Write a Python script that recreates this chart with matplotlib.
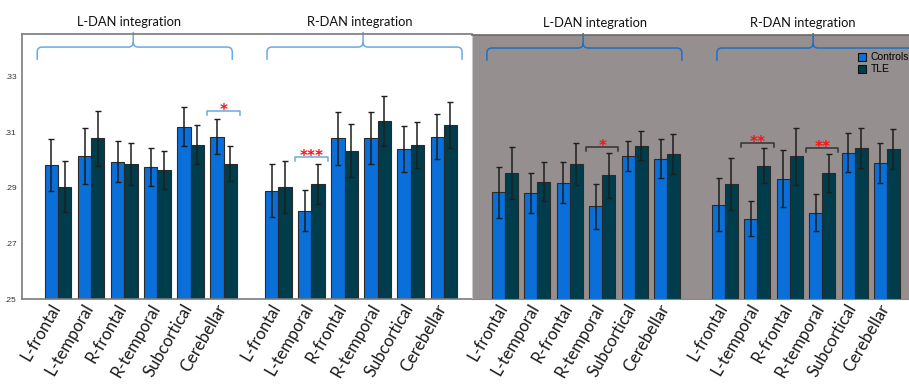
import matplotlib
matplotlib.use("Agg")
import matplotlib.pyplot as plt
from matplotlib.path import Path
from matplotlib.patches import PathPatch, Patch

regions = ["L-frontal", "L-temporal", "R-frontal", "R-temporal", "Subcortical", "Cerebellar"]
networks = ["L-DAN integration", "R-DAN integration"]
groups = ["Controls", "TLE"]
y_ticks = [0.25, 0.27, 0.29, 0.31, 0.33]
y_tick_labels = [".25", ".27", ".29", ".31", ".33"]

# left panel (white)
ldan_ctrl_a = [0.2982, 0.3014, 0.2994, 0.2975, 0.3120, 0.3084]
ldan_ctrl_a_err = [0.0093, 0.0100, 0.0075, 0.0067, 0.0071, 0.0064]
ldan_tle_a = [0.2904, 0.3078, 0.2985, 0.2964, 0.3054, 0.2986]
ldan_tle_a_err = [0.0092, 0.0098, 0.0076, 0.0067, 0.0070, 0.0063]
rdan_ctrl_a = [0.2890, 0.2817, 0.3078, 0.3078, 0.3040, 0.3084]
rdan_ctrl_a_err = [0.0095, 0.0074, 0.0095, 0.0094, 0.0083, 0.0081]
rdan_tle_a = [0.2904, 0.2914, 0.3033, 0.3140, 0.3054, 0.3126]
rdan_tle_a_err = [0.0094, 0.0073, 0.0096, 0.0090, 0.0082, 0.0083]

# right panel (grey)
ldan_ctrl_b = [0.2886, 0.2884, 0.2920, 0.2835, 0.3017, 0.3006]
ldan_ctrl_b_err = [0.0092, 0.0072, 0.0075, 0.0081, 0.0054, 0.0070]
ldan_tle_b = [0.2955, 0.2924, 0.2988, 0.2947, 0.3054, 0.3024]
ldan_tle_b_err = [0.0094, 0.0070, 0.0076, 0.0081, 0.0054, 0.0071]
rdan_ctrl_b = [0.2841, 0.2790, 0.2934, 0.2812, 0.3028, 0.2990]
rdan_ctrl_b_err = [0.0094, 0.0063, 0.0103, 0.0067, 0.0070, 0.0072]
rdan_tle_b = [0.2914, 0.2981, 0.3015, 0.2956, 0.3046, 0.3042]
rdan_tle_b_err = [0.0094, 0.0064, 0.0103, 0.0068, 0.0072, 0.0072]

# (network index, region index, bracket height, stars)
sig_a = [(0, 5, 0.3176, "*"), (1, 1, 0.3012, "***")]
sig_b = [(0, 3, 0.3048, "*"), (1, 1, 0.3062, "**"), (1, 3, 0.3044, "**")]

C_CTRL = "#0a6fd8"
C_TLE = "#003d4c"
YMIN, YMAX = 0.25, 0.3453
W = 0.4
PX_Y = 0.01 / 27.8   # data units per pixel (vertical)

fig = plt.figure(figsize=(9.09, 3.84), dpi=100)


def add_ax(x0, x1, y_top=34, y_bot=299):
    return fig.add_axes([x0 / 909, (384 - y_bot) / 384, (x1 - x0) / 909, (y_bot - y_top) / 384])


def brace(ax, x0, x1, xt, color, px_x):
    ym, ye, yt = 0.3406, 0.3360, 0.3460
    rx, ry = 5 * px_x, 5 * PX_Y
    verts = [(x0, ye), (x0, ym - ry), (x0, ym), (x0 + rx, ym), (xt - rx, ym),
             (xt, ym), (xt, ym + ry), (xt, yt),
             (xt, ym + ry), (xt, ym), (xt + rx, ym), (x1 - rx, ym),
             (x1, ym), (x1, ym - ry), (x1, ye)]
    codes = [Path.MOVETO, Path.LINETO, Path.CURVE3, Path.CURVE3, Path.LINETO,
             Path.CURVE3, Path.CURVE3, Path.LINETO,
             Path.MOVETO, Path.CURVE3, Path.CURVE3, Path.LINETO,
             Path.CURVE3, Path.CURVE3, Path.LINETO]
    ax.add_patch(PathPatch(Path(verts, codes), fill=False, edgecolor=color,
                           lw=1.1, clip_on=False))


def draw_panel(ax, data, offset2, braces, brace_color, bracket_color, sigs, px_x):
    for n, (ctrl, ctrl_e, tle, tle_e) in enumerate(data):
        centers = [i + n * offset2 for i in range(len(regions))]
        ax.bar([c - W / 2 for c in centers], ctrl, W, bottom=0, color=C_CTRL,
               edgecolor="#2a2a2a", lw=0.8, yerr=ctrl_e, capsize=2,
               error_kw=dict(ecolor="#1e1e1e", elinewidth=1.1, capthick=1))
        ax.bar([c + W / 2 for c in centers], tle, W, bottom=0, color=C_TLE,
               edgecolor="#2a2a2a", lw=0.8, yerr=tle_e, capsize=2,
               error_kw=dict(ecolor="#1e1e1e", elinewidth=1.1, capthick=1))
        for c, lab in zip(centers, regions):
            ax.annotate(lab, (c, 0), xycoords=("data", "axes fraction"),
                        xytext=(-6, -1.5), textcoords="offset points",
                        rotation=60, ha="right", va="top", rotation_mode="anchor",
                        fontsize=12, family="Lato", color="#1a1a1a",
                        annotation_clip=False)
        b0, b1, bt, tx = braces[n]
        g0 = n * offset2
        brace(ax, g0 + b0, g0 + b1, g0 + bt, brace_color, px_x)
        ax.text(g0 + tx, 0.3497, networks[n], ha="center", va="center",
                fontsize=9.3, family="Lato", color="#111111", clip_on=False)
    for n, r, y, stars in sigs:
        c = r + n * offset2
        x0, x1 = c - 0.5, c + 0.5
        tick = 4 * PX_Y
        ax.plot([x0, x0, x1, x1], [y - tick, y, y, y - tick], color=bracket_color,
                lw=1.1, clip_on=False)
        ax.annotate(stars, (c, y), xytext=(0, -5), textcoords="offset points",
                    ha="center", va="bottom", color="#ff1010",
                    fontsize=11, fontweight="bold", family="DejaVu Sans")
    ax.set_xticks([])
    ax.set_ylim(YMIN, YMAX)


# ---- left panel ----
ax1 = add_ax(22, 472)
px_a = 1 / 33.1
draw_panel(ax1,
           [(ldan_ctrl_a, ldan_ctrl_a_err, ldan_tle_a, ldan_tle_a_err),
            (rdan_ctrl_a, rdan_ctrl_a_err, rdan_tle_a, rdan_tle_a_err)],
           6.65, [(-0.63, 5.26, 2.27, 2.14), (-0.34, 5.55, 2.56, 2.47)],
           "#6aaae3", "#6aaae3", sig_a, px_a)
ax1.set_xlim(-1.09, 12.5)
ax1.set_yticks(y_ticks)
ax1.set_yticklabels(y_tick_labels, fontsize=6, family="Liberation Sans", color="#333333")
ax1.tick_params(axis="y", length=0, pad=4)
ax1.spines["right"].set_visible(False)
for s in ["left", "top", "bottom"]:
    ax1.spines[s].set_color("#7a7a7a")
    ax1.spines[s].set_linewidth(1.2)

# ---- right panel ----
ax2 = add_ax(472, 909, y_top=35)
px_b = 1 / 32.4
draw_panel(ax2,
           [(ldan_ctrl_b, ldan_ctrl_b_err, ldan_tle_b, ldan_tle_b_err),
            (rdan_ctrl_b, rdan_ctrl_b_err, rdan_tle_b, rdan_tle_b_err)],
           6.79, [(-0.56, 5.46, 2.41, 2.78), (-0.25, 6.6, 2.72, 2.41)],
           "#1f6fc2", "#333333", sig_b, px_b)
ax2.set_xlim(-1.02, 12.47)
ax2.set_facecolor("#958f8f")
ax2.set_yticks([])
ax2.spines["right"].set_visible(False)
ax2.spines["left"].set_color("#c8c8c8")
ax2.spines["top"].set_color("#6a6a6a")
ax2.spines["top"].set_linewidth(1.2)
ax2.spines["bottom"].set_color("#8a8a8a")

handles = [Patch(facecolor=C_CTRL, edgecolor="#111111", lw=0.8),
           Patch(facecolor=C_TLE, edgecolor="#111111", lw=0.8)]
ax2.legend(handles, groups, loc="upper left", bbox_to_anchor=(0.883, 0.935),
           frameon=False, borderpad=0, borderaxespad=0, handlelength=0.8,
           handleheight=0.8, handletextpad=0.4, labelspacing=0.2,
           prop={"family": ["Liberation Sans Narrow", "Liberation Sans"], "size": 7.5})

fig.savefig("out.png", dpi=100)
